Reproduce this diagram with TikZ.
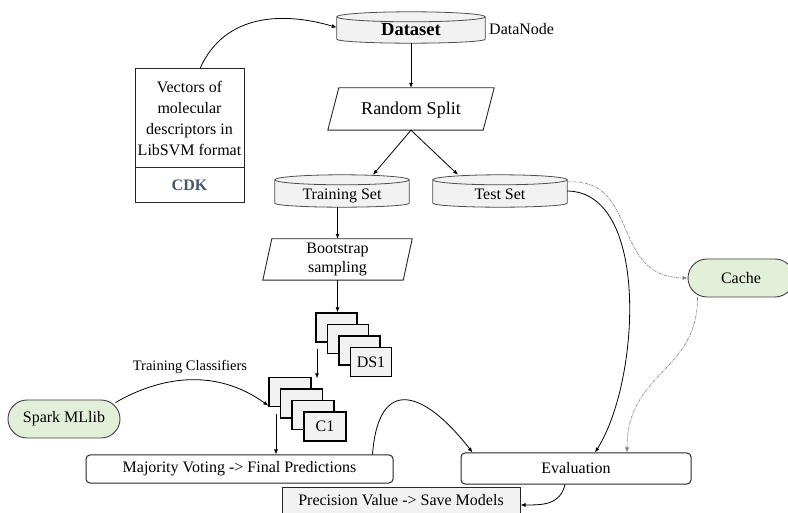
\documentclass[tikz,border=0pt]{standalone}
\usepackage{fontspec}
\setmainfont{Liberation Serif}
\usetikzlibrary{arrows.meta,backgrounds,calc}
\definecolor{drumfill}{HTML}{F2F2F2}
\definecolor{drumline}{HTML}{4D4D4D}
\definecolor{greenfill}{HTML}{E2EFD9}
\definecolor{cdkblue}{HTML}{44546A}
\definecolor{dashgray}{HTML}{7F7F7F}
\tikzset{
 base/.style={font=\fontsize{16}{19}\selectfont, inner sep=0pt, align=center},
 drumnode/.style={base, text height=20pt, text depth=3pt},
 drumshape/.style={draw=drumline, fill=drumfill, line width=0.8pt},
 parashape/.style={draw=black!85, line width=0.9pt},
 card/.style={base, draw=black, fill=drumfill, line width=1.3pt, minimum width=41pt, minimum height=29pt},
 roundbox/.style={base, draw=black!85, line width=1pt, rounded corners=4pt},
 pill/.style={base, draw=black!75, fill=greenfill, line width=0.9pt, rounded corners=19pt},
 plainbox/.style={base, draw=black!85, line width=1pt},
 arr/.style={-{Latex[length=5pt,width=4pt]}, line width=0.8pt, black},
 dasharr/.style={-{Latex[length=5pt,width=4pt]}, line width=0.6pt, dashgray, dash pattern=on 3pt off 1pt on 1pt off 1pt},
}
\newcommand\drumat[1]{%
  \path[drumshape] let \p1=(#1.north west), \p2=(#1.south east), \n1={(\x2-\x1)/2} in
    (\x1,\y1-5pt) -- (\x1,\y2+4pt) arc[start angle=180,end angle=360,x radius=\n1,y radius=4pt]
    -- (\x2,\y1-5pt) arc[start angle=0,end angle=180,x radius=\n1,y radius=5pt] -- cycle;
  \path[draw=drumline, line width=0.8pt] let \p1=(#1.north west), \p2=(#1.south east), \n1={(\x2-\x1)/2} in
    (\x1,\y1-5pt) arc[start angle=180,end angle=360,x radius=\n1,y radius=5pt];}
\newcommand\paraat[2]{%
  \draw[parashape] ([xshift=#2]#1.north west) -- (#1.north east) -- ([xshift=-#2]#1.south east) -- (#1.south west) -- cycle;}
\begin{document}
\begin{tikzpicture}[x=1pt,y=1pt]
\useasboundingbox (0,0) rectangle (788,512);
% left box
\node[plainbox, minimum width=109pt, minimum height=99pt, font=\fontsize{16}{21}\selectfont] (vec) at (189.5,393.5) {Vectors of\\molecular\\descriptors in\\LibSVM format};
\node[plainbox, minimum width=109pt, minimum height=35pt, font=\fontsize{16}{19}\selectfont\bfseries, text=cdkblue] (cdk) at (189.5,326.5) {CDK};
% drums
\node[drumnode, minimum width=148pt, minimum height=31pt, font=\fontsize{18.5}{21}\selectfont\bfseries] (ds) at (411,484.5) {Dataset};
\node[base, anchor=base west] (dn) at (489,477) {DataNode};
\node[base, minimum width=166pt, minimum height=42pt, font=\fontsize{18}{21}\selectfont, text height=13pt, text depth=1pt] (rs) at (411,403) {Random Split};
\node[drumnode, minimum width=134pt, minimum height=32pt] (tr) at (342,321) {Training Set};
\node[drumnode, minimum width=134pt, minimum height=32pt] (te) at (500,321) {Test Set};
\node[base, minimum width=149pt, minimum height=41pt] (bs) at (337.5,252.5) {Bootstrap\\sampling};
% stacks
\node[card] (dsa) at (336.5,184.5) {};
\node[card] (dsb) at (348,173) {};
\node[card] (dsc) at (359.5,161.5) {};
\node[card] (dsd) at (371,150) {DS1};
\node[card, minimum width=42pt] (ca1) at (290,120) {};
\node[card, minimum width=42pt] (ca2) at (301.5,108.5) {};
\node[card, minimum width=42pt] (ca3) at (313,97) {};
\node[card, minimum width=42pt] (ca4) at (325,85.5) {C1};
\node[base, font=\fontsize{14.5}{17}\selectfont] (tc) at (190,145) {Training Classifiers};
% others
\node[pill, minimum width=112pt, minimum height=38pt] (sp) at (64,93) {Spark MLlib};
\node[roundbox, minimum width=307pt, minimum height=28pt] (mv) at (239.5,43) {Majority Voting -> Final Predictions};
\node[roundbox, minimum width=230pt, minimum height=31pt] (ev) at (576,43.5) {Evaluation};
\node[plainbox, fill=drumfill, minimum width=238pt, minimum height=27pt] (pv) at (401,11.5) {Precision Value -> Save Models};
\node[pill, minimum width=106pt, minimum height=38pt] (cc) at (741,234) {Cache};
% shapes
\paraat{rs}{11pt}
\paraat{bs}{9pt}
\begin{pgfonlayer}{background}
\drumat{ds}\drumat{tr}\drumat{te}
\end{pgfonlayer}
% connectors
\draw[arr] ([xshift=10.5pt]vec.north) .. controls +(25,56) and +(-52,15.5) .. (ds.west);
\draw[arr] (ds.south) -- (rs.north);
\draw[arr] (rs.south) -- ([xshift=31pt]tr.north);
\draw[arr] (rs.south) -- ([xshift=-42pt]te.north);
\draw[arr] (bs.north |- tr.south) -- (bs.north);
\draw[arr] (bs.south) -- (bs.south |- dsa.north);
\draw[arr] ([xshift=-19.5pt,yshift=-6pt]dsa.south) -- ([xshift=27pt,yshift=-1.5pt]ca1.north);
\draw[arr] ([xshift=-5pt,yshift=-3pt]sp.north east) .. controls +(45,26) and +(-53,38) .. ([yshift=1.5pt]ca1.south west);
\draw[arr] ([xshift=-14pt,yshift=-6.5pt]ca1.south) coordinate (cdown) -- (cdown |- mv.north);
\draw[arr] ([xshift=-21pt]mv.north east) .. controls +(6,80) and +(-48,62) .. ([xshift=12pt]ev.north west);
\draw[arr] (te.east) .. controls +(83,-1) and +(45,71) .. ([xshift=19pt]ev.north);
\draw[dasharr] ([yshift=9pt]te.east) .. controls +(73,5) and +(-78,1) .. (cc.west);
\draw[dasharr] ([xshift=10pt]cc.south west) .. controls +(0,-75) and +(0,81) .. ([xshift=51pt]ev.north);
\draw[arr] ([xshift=-11pt]ev.south) .. controls +(-5,-20) and +(24,0) .. ([yshift=-4.5pt]pv.east);
\end{tikzpicture}
\end{document}
